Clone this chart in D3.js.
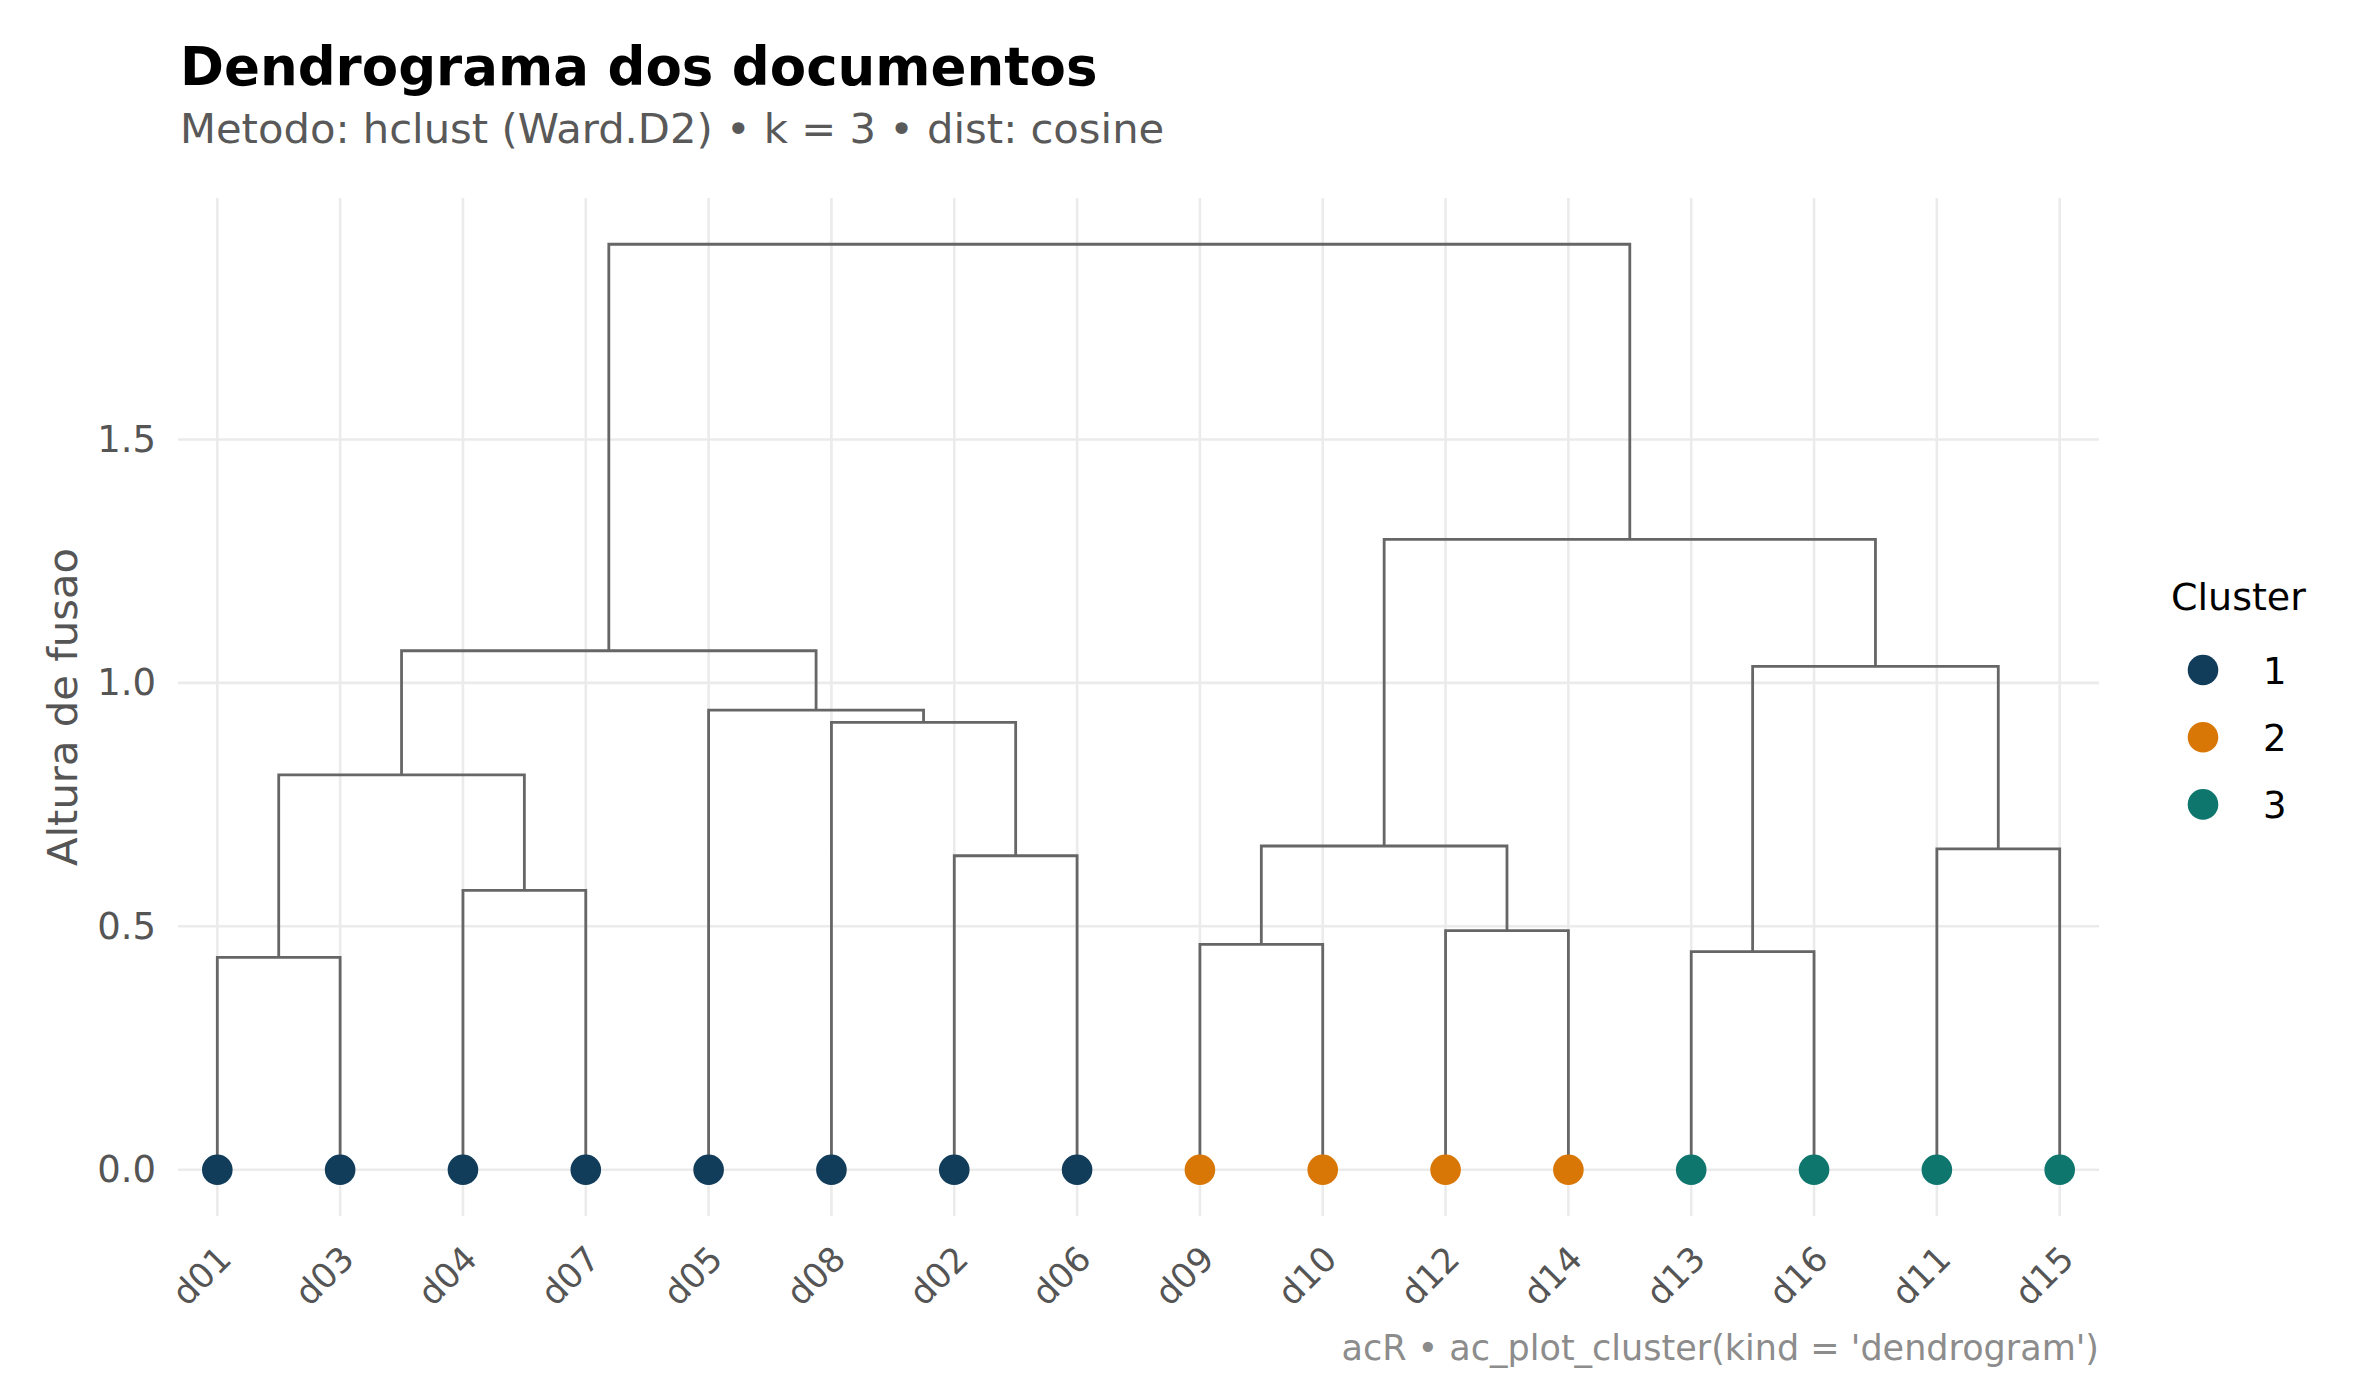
<!DOCTYPE html>
<html>
<head>
<meta charset="utf-8">
<script src="https://cdn.jsdelivr.net/npm/d3@7"></script>
<style>
  body { margin: 0; background: #fff; }
  text { font-family: "DejaVu Sans", sans-serif; }
</style>
</head>
<body>
<script>
// leaves in dendrogram order, with their cluster (k = 3)
const leaves = ['d01', 'd03', 'd04', 'd07', 'd05', 'd08', 'd02', 'd06',
                'd09', 'd10', 'd12', 'd14', 'd13', 'd16', 'd11', 'd15'];
const leafCluster = [1, 1, 1, 1, 1, 1, 1, 1, 2, 2, 2, 2, 3, 3, 3, 3];

// merges m1..m15 (children + fusion height)
const mergeLeft  = ['d01', 'd04', 'm1', 'd02', 'd08', 'd05', 'm3', 'd09', 'd12', 'm8', 'd13', 'd11', 'm11', 'm10', 'm7'];
const mergeRight = ['d03', 'd07', 'm2', 'd06', 'm4', 'm5', 'm6', 'd10', 'd14', 'm9', 'd16', 'd15', 'm12', 'm13', 'm14'];
const mergeHeight = [0.436, 0.574, 0.811, 0.645, 0.919, 0.944, 1.066, 0.463, 0.491, 0.665, 0.448, 0.659, 1.034, 1.295, 1.901];

const yTicks = [0, 0.5, 1.0, 1.5];
const clusterNames = ['1', '2', '3'];
const clusterColors = ['#113c5a', '#d97706', '#0f766e'];

const W = 2380, H = 1400;
const panel = {left: 178, right: 2099, top: 198, bottom: 1216};

const svg = d3.select('body').append('svg').attr('width', W).attr('height', H);

const maxH = d3.max(mergeHeight);
const x = d3.scaleLinear()
  .domain([1 - 0.32, leaves.length + 0.32])
  .range([panel.left, panel.right]);
const y = d3.scaleLinear()
  .domain([-0.05 * maxH, maxH * 1.05])
  .range([panel.bottom, panel.top]);
const color = d3.scaleOrdinal().domain([1, 2, 3]).range(clusterColors);

// grid
const grid = svg.append('g').attr('stroke', '#ebebeb').attr('stroke-width', 2.6);
grid.selectAll('line.h').data(yTicks).enter().append('line')
  .attr('x1', panel.left).attr('x2', panel.right)
  .attr('y1', d => y(d)).attr('y2', d => y(d));
grid.selectAll('line.v').data(leaves).enter().append('line')
  .attr('x1', (d, i) => x(i + 1)).attr('x2', (d, i) => x(i + 1))
  .attr('y1', panel.top).attr('y2', panel.bottom);

// node positions
const pos = {};
leaves.forEach((d, i) => { pos[d] = {x: i + 1, h: 0}; });
mergeHeight.forEach((h, i) => {
  const l = pos[mergeLeft[i]], r = pos[mergeRight[i]];
  pos['m' + (i + 1)] = {x: (l.x + r.x) / 2, h: h, l: l, r: r};
});

const links = mergeHeight.map((h, i) => pos['m' + (i + 1)]);
svg.append('g').selectAll('path').data(links).enter().append('path')
  .attr('fill', 'none')
  .attr('stroke', '#666666')
  .attr('stroke-width', 2.8)
  .attr('d', d => 'M' + x(d.l.x) + ',' + y(d.l.h) + 'V' + y(d.h) + 'H' + x(d.r.x) + 'V' + y(d.r.h));

// leaf points
svg.append('g').selectAll('circle').data(leaves).enter().append('circle')
  .attr('cx', (d, i) => x(i + 1))
  .attr('cy', y(0))
  .attr('r', 15.3)
  .attr('fill', (d, i) => color(leafCluster[i]));

// y axis
const yAxis = svg.append('g')
  .attr('transform', 'translate(' + panel.left + ',0)')
  .call(d3.axisLeft(y).tickValues(yTicks).tickFormat(d3.format('.1f')).tickSize(0).tickPadding(22));
yAxis.select('.domain').remove();
yAxis.selectAll('text')
  .attr('font-family', '"DejaVu Sans", sans-serif')
  .attr('font-size', 37)
  .attr('fill', '#555');

// x axis, rotated labels
const xAxis = svg.append('g')
  .attr('transform', 'translate(0,' + panel.bottom + ')')
  .call(d3.axisBottom(x).tickValues(leaves.map((d, i) => i + 1)).tickFormat((d, i) => leaves[i]).tickSize(0));
xAxis.select('.domain').remove();
xAxis.selectAll('text')
  .attr('font-family', '"DejaVu Sans", sans-serif')
  .attr('font-size', 34.5)
  .attr('fill', '#555')
  .attr('y', 0).attr('dy', 0)
  .attr('text-anchor', 'end')
  .attr('transform', 'translate(15.5,45) rotate(-45)');

// axis title
svg.append('text')
  .attr('transform', 'translate(77,' + (panel.top + panel.bottom) / 2 + ') rotate(-90)')
  .attr('text-anchor', 'middle')
  .attr('font-size', 41.7)
  .attr('fill', '#555')
  .text('Altura de fusao');

// titles
svg.append('text').attr('x', 180).attr('y', 85)
  .attr('font-size', 53).attr('font-weight', 'bold').attr('fill', '#000')
  .text('Dendrograma dos documentos');
svg.append('text').attr('x', 180).attr('y', 143)
  .attr('font-size', 41.7).attr('fill', '#595959')
  .text('Metodo: hclust (Ward.D2) \u2022 k = 3 \u2022 dist: cosine');
svg.append('text').attr('x', panel.right).attr('y', 1360)
  .attr('text-anchor', 'end')
  .attr('font-size', 35).attr('fill', '#8c8c8c')
  .text("acR \u2022 ac_plot_cluster(kind = 'dendrogram')");

// legend
const legend = svg.append('g').attr('transform', 'translate(2171,610)');
legend.append('text').attr('x', 0).attr('y', 0)
  .attr('font-size', 38).attr('fill', '#000').text('Cluster');
const items = legend.selectAll('g.item').data(clusterNames).enter().append('g')
  .attr('transform', (d, i) => 'translate(0,' + (60 + i * 67.2) + ')');
items.append('circle').attr('cx', 32).attr('cy', 0).attr('r', 15.3)
  .attr('fill', (d, i) => clusterColors[i]);
items.append('text').attr('x', 92).attr('y', 14)
  .attr('font-size', 37).attr('fill', '#000').text(d => d);
</script>
</body>
</html>
